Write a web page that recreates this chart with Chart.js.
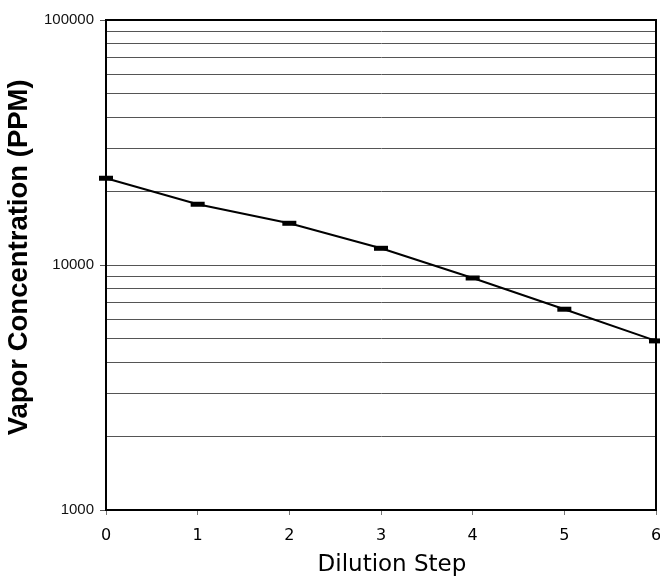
<!DOCTYPE html>
<html>
<head>
<meta charset="utf-8">
<script src="https://cdn.jsdelivr.net/npm/chart.js@4/dist/chart.umd.min.js"></script>
<style>
  html, body { margin: 0; padding: 0; background: #fff; }
  #wrap { width: 660px; height: 580px; }
</style>
</head>
<body>
<div id="wrap"><canvas id="c" width="660" height="580"></canvas></div>
<script>
const dilutionSteps = [0, 1, 2, 3, 4, 5, 6];
const vaporPPM = [22600, 17700, 14800, 11700, 8850, 6600, 4900];
const yGridValues = [1000, 2000, 3000, 4000, 5000, 6000, 7000, 8000, 9000,
  10000, 20000, 30000, 40000, 50000, 60000, 70000, 80000, 90000, 100000];
const yTickLabels = ['1000', '10000', '100000'];
const xTickLabels = ['0', '1', '2', '3', '4', '5', '6'];

const frame = {
  id: 'frame',
  afterDraw(chart) {
    const a = chart.chartArea, ctx = chart.ctx;
    ctx.save();
    ctx.strokeStyle = '#000';
    ctx.lineWidth = 2;
    ctx.strokeRect(a.left, a.top, a.right - a.left, a.bottom - a.top);
    ctx.restore();
  }
};

new Chart(document.getElementById('c'), {
  type: 'line',
  data: {
    datasets: [{
      data: dilutionSteps.map((s, i) => ({ x: s, y: vaporPPM[i] })),
      borderColor: '#000',
      borderWidth: 2,
      pointStyle: 'line',
      pointRadius: 7,
      pointBorderWidth: 5,
      pointBorderColor: '#000',
      pointBackgroundColor: '#000',
      pointHoverRadius: 7,
      tension: 0,
      clip: false
    }]
  },
  plugins: [frame],
  options: {
    responsive: false,
    animation: false,
    events: [],
    layout: { autoPadding: false, padding: { top: 20, right: 4, left: 0, bottom: 0 } },
    plugins: { legend: { display: false }, tooltip: { enabled: false } },
    scales: {
      x: {
        type: 'linear',
        min: 0, max: 6,
        afterBuildTicks(scale) { scale.ticks = xTickLabels.map(t => ({ value: Number(t) })); },
        afterFit(scale) { scale.height = 70; scale.paddingLeft = 0; scale.paddingRight = 0; },
        ticks: {
          color: '#000',
          font: { family: 'DejaVu Sans', size: 16 },
          padding: 11,
          maxRotation: 0,
          autoSkip: false,
          callback: (v) => String(v)
        },
        grid: { drawOnChartArea: false, drawTicks: true, tickLength: 5, tickColor: '#777', tickWidth: 1 },
        border: { display: true, color: '#000', width: 2 },
        title: {
          display: true,
          text: '   Dilution Step',
          color: '#000',
          font: { family: 'DejaVu Sans', size: 23 },
          padding: { top: 0, bottom: 1 }
        }
      },
      y: {
        type: 'logarithmic',
        min: 1000, max: 100000,
        afterBuildTicks(scale) { scale.ticks = yGridValues.map(v => ({ value: v })); },
        afterFit(scale) { scale.width = 106; },
        ticks: {
          color: '#111',
          font: { family: 'Liberation Sans', size: 15 },
          padding: 6,
          autoSkip: false,
          callback: (v) => yTickLabels.includes(String(v)) ? String(v) : ''
        },
        grid: {
          color: '#555',
          lineWidth: 1,
          drawTicks: true,
          tickLength: 6,
          tickColor: (ctx) => (ctx.tick && yTickLabels.includes(String(ctx.tick.value))) ? '#555' : 'rgba(0,0,0,0)'
        },
        border: { display: true, color: '#000', width: 2 },
        title: {
          display: true,
          text: '  Vapor Concentration (PPM)',
          color: '#000',
          font: { family: 'Liberation Sans', size: 27.5, weight: 'bold' },
          padding: { top: 3, bottom: 0 }
        }
      }
    }
  }
});
</script>
</body>
</html>
